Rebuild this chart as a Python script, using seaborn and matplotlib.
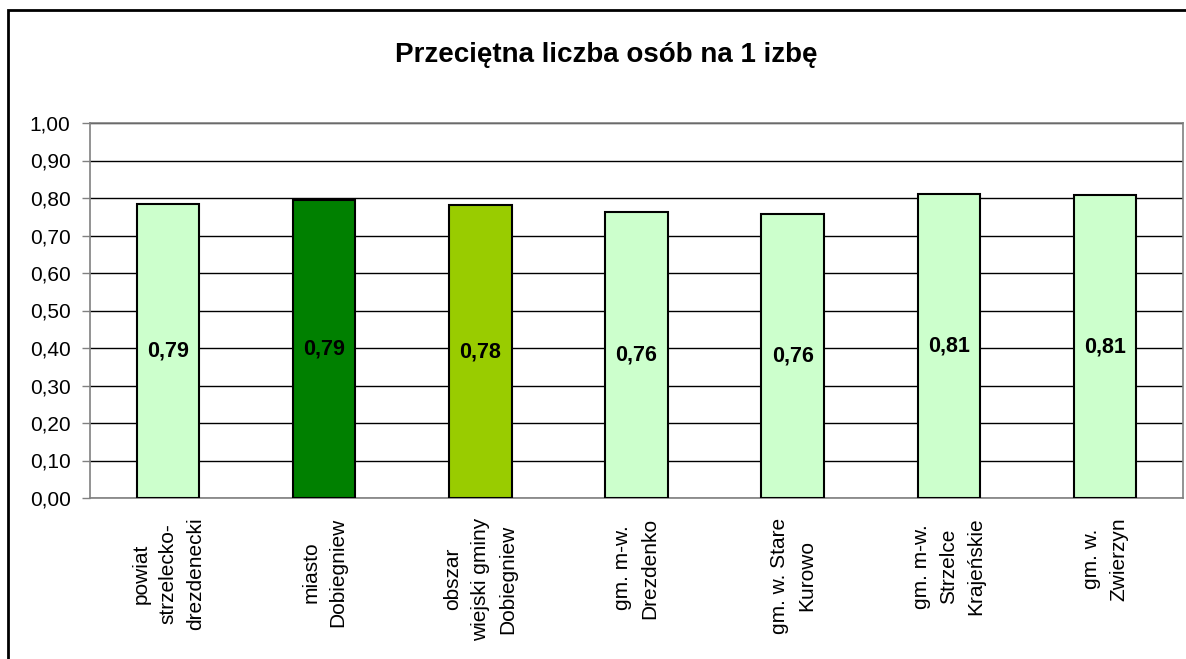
import seaborn as sns
import pandas as pd
import numpy as np
import matplotlib.pyplot as plt
from matplotlib.patches import Rectangle

# categories and values
categories = ['powiat\nstrzelecko-\ndrezdenecki', 'miasto\nDobiegniew', 'obszar\nwiejski gminy\nDobiegniew',
              'gm. m-w.\nDrezdenko', 'gm. w. Stare\nKurowo', 'gm. m-w.\nStrzelce\nKrajeńskie', 'gm. w.\nZwierzyn']
values = [0.785, 0.794, 0.781, 0.763, 0.758, 0.812, 0.808]
bar_colors = ['#CCFFCC', '#008000', '#99CC00', '#CCFFCC', '#CCFFCC', '#CCFFCC', '#CCFFCC']
yticks = [0.0, 0.1, 0.2, 0.3, 0.4, 0.5, 0.6, 0.7, 0.8, 0.9, 1.0]
title = 'Przeciętna liczba osób na 1 izbę'

df = pd.DataFrame({'kat': categories, 'val': values})

sns.set_theme(style='white')
plt.rcParams['font.family'] = ['Liberation Sans', 'DejaVu Sans']
plt.rcParams['text.color'] = 'black'

fig = plt.figure(figsize=(11.86, 6.59), dpi=100)
ax = fig.add_axes([90/1186, 1-498/659, (1183-90)/1186, (498-123)/659])

sns.barplot(data=df, x='kat', y='val', hue='kat', palette=bar_colors, legend=False,
            width=0.4, edgecolor='black', linewidth=1.5, saturation=1, ax=ax, zorder=3)

# value labels in the middle of each bar
for cont, v in zip(ax.containers, values):
    ax.bar_label(cont, labels=[f'{v:.2f}'.replace('.', ',')], label_type='center',
                 fontsize=15.5, fontweight='bold', color='black')

ax.set_ylim(0, 1)
ax.set_xlim(-0.5, len(categories) - 0.5)
ax.set_yticks(yticks)
ax.set_yticklabels([f'{t:.2f}'.replace('.', ',') for t in yticks], fontsize=15)
ax.set_xticks(range(len(categories)))
ax.set_xticklabels(categories, rotation=90, fontsize=15, multialignment='center', linespacing=1.55)
ax.set_xticks(np.arange(-0.5, len(categories)), minor=True)
ax.set_xlabel('')
ax.set_ylabel('')

ax.yaxis.grid(True, color='black', linewidth=1)
ax.set_axisbelow(True)
ax.tick_params(axis='x', which='major', length=0, pad=14, labelcolor='black')
ax.tick_params(axis='x', which='minor', length=6, width=1, color='#808080', direction='out')
ax.tick_params(axis='y', length=6, width=1, color='#808080', direction='out', pad=8, left=True,
               labelcolor='black')
for s in ax.spines.values():
    s.set_color('#808080')
    s.set_linewidth(1.2)
    s.set_visible(True)

fig.text(606/1186, 1-55/659, title, ha='center', va='center', fontsize=20, fontweight='bold',
         color='black')

# outer chart frame (cut by the image edge on the right and bottom)
fig.patches.append(Rectangle((8/1186, -0.1), 1.2, 1.1 - 10/659, transform=fig.transFigure,
                             fill=False, edgecolor='black', linewidth=2))

fig.savefig('out.png', dpi=100)
